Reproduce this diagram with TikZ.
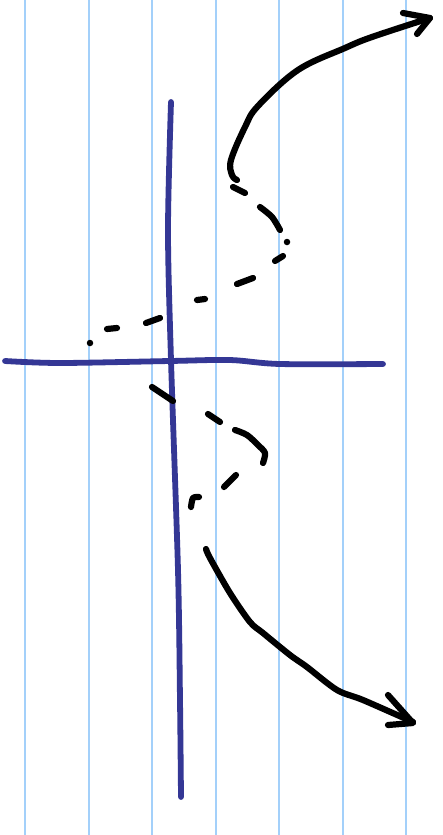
\documentclass[tikz,border=0pt]{standalone}
\usepackage{xcolor}
\usepackage{tikz}
\usetikzlibrary{arrows.meta,calc}

\definecolor{ruleblue}{HTML}{A3D0FA}
\definecolor{axisblue}{HTML}{343795}

\begin{document}
\begin{tikzpicture}[
    x=1pt, y=-1pt,
    rule/.style={draw=ruleblue, line width=2pt},
    axis/.style={draw=axisblue, line width=5.8pt, line cap=round, line join=round},
    ink/.style={draw=black, line width=6.2pt, line cap=round, line join=round},
    dot/.style={fill=black, circle, inner sep=0pt, minimum size=6.5pt}
  ]
    \useasboundingbox[fill=white] (0,0) rectangle (443,835);

    % ruled paper
    \foreach \xr in {25,89,152,216,279,343,406}
      \draw[rule] (\xr,0) -- (\xr,835);

    % axes
    \draw[axis] plot[smooth, tension=0.5] coordinates {(171,102) (168,230) (171,360) (178,570) (180,700) (181,797)};
    \draw[axis] plot[smooth, tension=0.5] coordinates {(5,361) (60,363) (170,361) (230,360) (280,364) (383,364)};

    % upper branch
    \coordinate (tipup) at (430,18);
    \draw[ink] plot[smooth, tension=0.6] coordinates {(237,180) (232,175) (231,160) (245,127) (258,106) (298,70) (345,48) (372,37) (430,18)};
    \draw[ink] (403,13) -- (tipup) -- (417,34);
    \draw[ink] (233,187) -- (245,193);
    \draw[ink] plot[smooth] coordinates {(260,207) (272,217) (280,230)};
    \node[dot] (turnup) at (287,242) {};
    \draw[ink] (275,261) -- (283,256);
    \draw[ink] (237,284) -- (253,278);
    \draw[ink] (197,300) -- (205,299);
    \draw[ink] (146,323) -- (160,318);
    \draw[ink] (107,329) -- (117,328);
    \node[dot] (endup) at (90,343) {};

    % lower branch
    \coordinate (tipdown) at (413,723);
    \draw[ink] (152,387) -- (173,401);
    \draw[ink] (208,414) -- (220,422);
    \draw[ink] plot[smooth] coordinates {(235,430) (247,435) (258,445) (265,453) (263,463)};
    \draw[ink] (236,475) -- (224,487);
    \draw[ink] plot[smooth] coordinates {(199,497) (193,498) (191,507)};
    \draw[ink] plot[smooth, tension=0.5] coordinates {(206,549) (210,558) (230,593) (250,622) (263,633) (290,655) (307,667) (337,690) (363,700) (413,722)};
    \draw[ink] (388,695) -- (tipdown) -- (388,725);
  \end{tikzpicture}
\end{document}
